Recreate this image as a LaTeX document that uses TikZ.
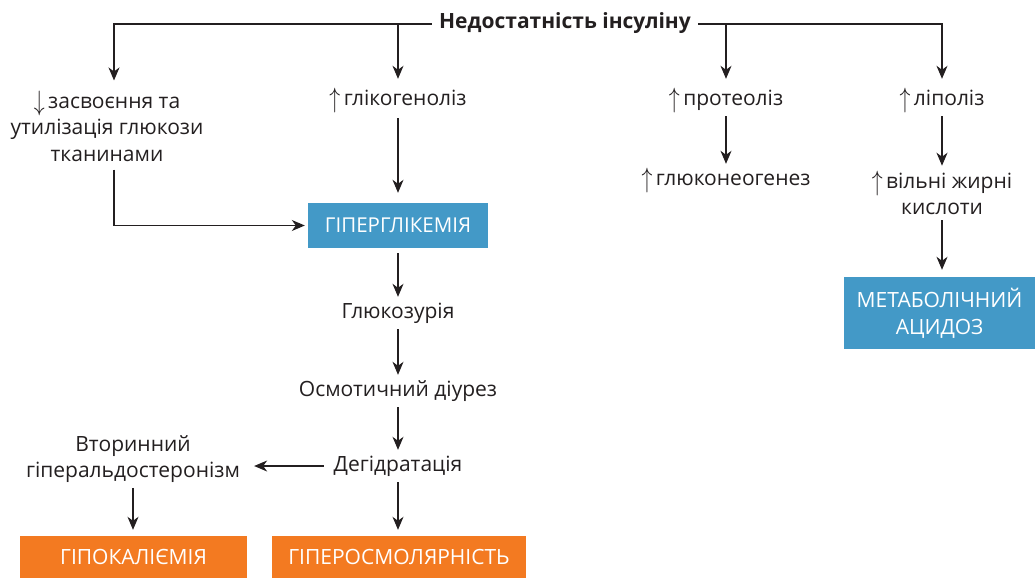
\documentclass[tikz,border=0pt]{standalone}
\usepackage{fontspec}
\usepackage{graphicx}
\setmainfont{Open Sans}
\usetikzlibrary{arrows.meta}
\definecolor{ink}{HTML}{231F20}
\definecolor{boxblue}{HTML}{4399C7}
\definecolor{boxorange}{HTML}{F37A21}
\newcommand{\incr}{\raisebox{-2pt}{\scalebox{1.05}[1.35]{$\uparrow$}}\,}
\newcommand{\decr}{\raisebox{-2pt}{\scalebox{1.05}[1.35]{$\downarrow$}}\,}

\begin{document}
\begin{tikzpicture}[x=1pt, y=-1pt, font=\fontsize{21}{26.5}\selectfont, text=ink,
  arr/.style={draw=ink, line width=1.1pt, -{Stealth[length=13pt,width=11pt,inset=4pt]}},
  lbl/.style={inner sep=0pt, text height=15pt, text depth=5pt, inner ysep=6pt},
  lblm/.style={align=center, inner sep=0pt, inner ysep=5pt},
  bluebox/.style={fill=boxblue, text=white, align=center},
  orangebox/.style={fill=boxorange, text=white}]
\useasboundingbox (0,0) rectangle (1035,578);
% top
\node[lbl, inner xsep=7pt, font=\fontsize{21}{26.5}\selectfont\bfseries] (insulin) at (565,24) {Недостатність інсуліну};
\node[lblm] (zasv) at (107,126) {\decr засвоєння та\\утилізація глюкози\\тканинами};
\node[lbl] (glyk) at (398,100) {\incr глікогеноліз};
\node[lbl] (prot) at (726,100) {\incr протеоліз};
\node[lbl] (lipo) at (942,100) {\incr ліполіз};
\draw[arr, shorten >=5pt] (insulin.west) -| ([xshift=7pt]zasv.north);
\draw[arr, shorten >=5pt] (insulin.west -| glyk.north) -- (glyk.north);
\draw[arr, shorten >=5pt] (insulin.east) -| (lipo.north);
\draw[arr, shorten >=5pt] (insulin.east -| prot.north) -- (prot.north);
% right side
\node[lbl] (gluco) at (726,180) {\incr глюконеогенез};
\node[lblm] (fatty) at (942,193) {\incr вільні жирні\\кислоти};
\node[bluebox, minimum width=191pt, minimum height=72pt, font=\fontsize{21}{27}\selectfont] (acid) at (939.5,313) {МЕТАБОЛІЧНИЙ\\АЦИДОЗ};
\draw[arr] (prot.south) -- (gluco.north);
\draw[arr] (lipo.south) -- (fatty.north);
\draw[arr, shorten >=7pt] (fatty.south) -- (fatty.south |- acid.north);
% middle chain
\node[bluebox, minimum width=180pt, minimum height=45pt, font=\fontsize{20.5}{24}\selectfont] (hyper) at (398,225.5) {ГІПЕРГЛІКЕМІЯ};
\node[lbl] (uria) at (398,313) {Глюкозурія};
\node[lbl] (diur) at (398,391) {Осмотичний діурез};
\node[lbl] (dehyd) at (398,466) {Дегідратація};
\node[lblm] (aldo) at (133,459) {Вторинний\\гіперальдостеронізм};
\node[orangebox, minimum width=227pt, minimum height=42pt] (kal) at (133.5,557) {ГІПОКАЛІЄМІЯ};
\node[orangebox, minimum width=254pt, minimum height=42pt] (osm) at (399,557) {ГІПЕРОСМОЛЯРНІСТЬ};
\draw[arr, shorten <=2pt, shorten >=10pt] (glyk.south) -- (hyper.north);
\draw[arr, shorten <=3pt, shorten >=3pt] ([xshift=7pt]zasv.south) |- (hyper.west);
\draw[arr, shorten <=5pt] (hyper.south) -- (uria.north);
\draw[arr] (uria.south) -- (diur.north);
\draw[arr] (diur.south) -- (dehyd.north);
\draw[arr, shorten <=10pt, shorten >=14pt] (dehyd.west) -- (dehyd.west -| aldo.east);
\draw[arr, shorten >=6pt] (aldo.south) -- (aldo.south |- kal.north);
\draw[arr, shorten >=6pt] (dehyd.south) -- (dehyd.south |- osm.north);
\end{tikzpicture}
\end{document}
